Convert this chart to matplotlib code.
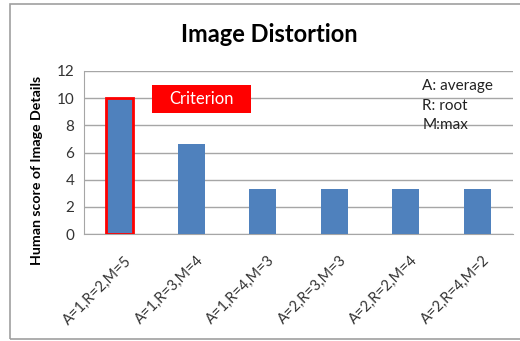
import matplotlib
matplotlib.use("Agg")
import matplotlib.pyplot as plt
import matplotlib.transforms as mtrans
import numpy as np
from matplotlib.patches import Rectangle

CATS = ["A=1,R=2,M=5", "A=1,R=3,M=4", "A=1,R=4,M=3",
        "A=2,R=3,M=3", "A=2,R=2,M=4", "A=2,R=4,M=2"]
VALS = [10, 6.6, 3.3, 3.3, 3.3, 3.3]
YTICKS = [0, 2, 4, 6, 8, 10, 12]
LEGEND_TXT = ["A: average", "R: root", "M:max"]

plt.rcParams["font.family"] = ["Lato", "DejaVu Sans"]

fig = plt.figure(figsize=(5.2, 3.41), dpi=100)
# outer chart border
fig.patches.append(Rectangle((10 / 520, 1 - 339 / 341), 1.2, 335 / 341,
                             transform=fig.transFigure, fill=False,
                             edgecolor="#a0a0a0", lw=1.2))

ax = fig.add_axes([84 / 520, 1 - 234 / 341, 429 / 520, 163 / 341])
x = np.arange(len(CATS))
bars = ax.bar(x, VALS, 0.38, color="#4F81BD", zorder=3)
bars[0].set_edgecolor("#FF0000"); bars[0].set_linewidth(2)

ax.set_xlim(-0.5, len(CATS) - 0.5)
ax.set_ylim(0, 12)
ax.set_yticks(YTICKS)
ax.yaxis.grid(True, color="#a6a6a6", lw=1)
ax.set_axisbelow(True)
ax.tick_params(axis="y", length=0, labelsize=11, colors="#333333", pad=7)
ax.tick_params(axis="x", length=0, colors="#333333", pad=14)
ax.set_xticks(x)
ax.set_xticklabels(CATS, rotation=45, ha="right", rotation_mode="anchor", fontsize=10.5)
shift = mtrans.ScaledTranslation(5 / 100, 0, fig.dpi_scale_trans)
for lab in ax.get_xticklabels():
    lab.set_transform(lab.get_transform() + shift)
for s in ["top", "right"]:
    ax.spines[s].set_visible(False)
ax.spines["left"].set_color("#a6a6a6")
ax.spines["bottom"].set_color("#a6a6a6")

ax.set_ylabel("Human score of Image Details", fontsize=10.2, fontweight="bold")
ax.yaxis.set_label_coords(-0.095, 0.39)
fig.text(269 / 520, 1 - 35 / 341, "Image Distortion", ha="center", va="center",
         fontsize=17, fontweight="bold")

# criterion label
ax.add_patch(Rectangle((0.451, 8.91), 1.385, 2.06, fc="#FF0000", ec="none", zorder=5))
ax.text(1.143, 9.94, "Criterion", ha="center", va="center", color="white",
        fontsize=12, zorder=6)

for i, t in enumerate(LEGEND_TXT):
    ax.text(4.23, [10.9, 9.45, 8.05][i], t, ha="left", va="center", fontsize=11, color="#222222")

fig.savefig("out.png", dpi=100)
